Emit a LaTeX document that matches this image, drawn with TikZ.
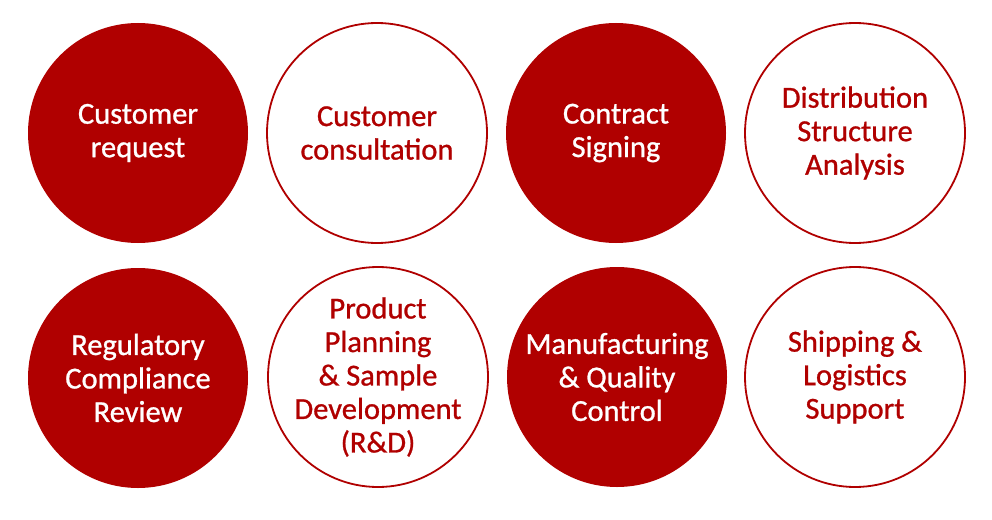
\documentclass[tikz,border=0pt]{standalone}
\usepackage{fontspec}
\setmainfont{Carlito}
\newfontfamily\labfont{Carlito}[FakeBold=0.9]
\definecolor{brand}{HTML}{B00000}
\begin{document}
\begin{tikzpicture}[x=1pt,y=-1pt,
  base/.style={circle,minimum size=220pt,inner sep=0pt},
  txt/.style={align=center,inner sep=0pt,
    font=\labfont\fontsize{30.5}{33.5}\selectfont},
  filledc/.style={base,fill=brand,label={[txt,text=white]center:#1}},
  outlinec/.style={base,draw=brand,line width=1.8pt,fill=white,label={[txt,text=brand]center:#1}}]
\useasboundingbox (0,0) rectangle (992,519);
\node[filledc={Customer\\request}]  (a) at (138,133) {};
\node[outlinec={Customer\\consultation}] (b) at (377,133) {};
\node[filledc={Contract\\Signing}]  (c) at (616,133) {};
\node[outlinec={Distribution\\Structure\\Analysis}] (d) at (855,133) {};
\node[filledc={Regulatory\\Compliance\\Review}]  (e) at (138,378) {};
\node[outlinec={Product\\Planning\\\& Sample\\Development\\(R\&D)}] (f) at (378,377) {};
\node[filledc={Manufacturing\\\& Quality\\Control}]  (g) at (617,377) {};
\node[outlinec={Shipping \&\\Logistics\\Support}] (h) at (855,377) {};
\end{tikzpicture}
\end{document}
